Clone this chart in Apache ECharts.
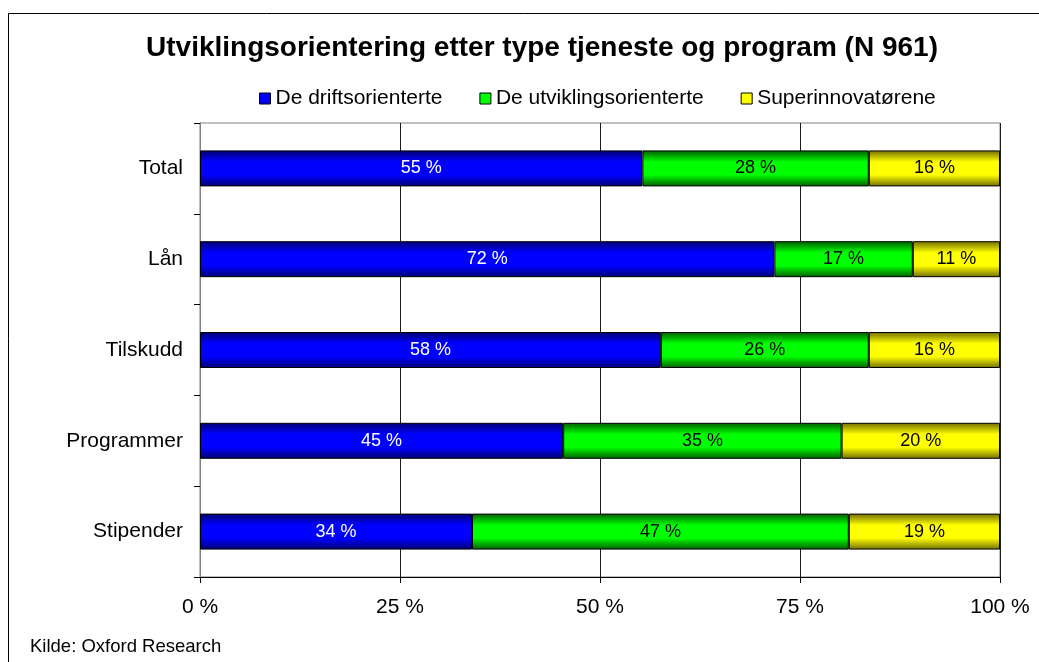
<!DOCTYPE html>
<html>
<head>
<meta charset="utf-8">
<script src="https://cdn.jsdelivr.net/npm/echarts@6/dist/echarts.min.js"></script>
<style>
html,body{margin:0;padding:0;background:#fff;}
#chart{width:1039px;height:662px;}
</style>
</head>
<body>
<div id="chart"></div>
<script>
const categories = ['Total', 'Lån', 'Tilskudd', 'Programmer', 'Stipender'];
const seriesNames = ['De driftsorienterte', 'De utviklingsorienterte', 'Superinnovatørene'];
const drifts = [55.3, 71.8, 57.6, 45.4, 34.0];
const utvikling = [28.3, 17.3, 26.0, 34.8, 47.1];
const superinn = [16.4, 10.9, 16.4, 19.8, 18.9];
const xTicks = [0, 25, 50, 75, 100];
const titleText = 'Utviklingsorientering etter type tjeneste og program (N 961)';
const sourceText = 'Kilde: Oxford Research';

const chart = echarts.init(document.getElementById('chart'));
const FONT = '"Liberation Sans", Arial, sans-serif';

function grad(dark, bright) {
  return new echarts.graphic.LinearGradient(0, 0, 0, 1, [
    {offset: 0, color: dark},
    {offset: 0.32, color: bright},
    {offset: 0.68, color: bright},
    {offset: 1, color: dark}
  ]);
}
const flat = ['#0000ff', '#00ff00', '#ffff00'];
const fills = [grad('#000070', '#0000ff'), grad('#005c00', '#00ff00'), grad('#706c00', '#ffff00')];
const labelColors = ['#ffffff', '#000000', '#000000'];
const dataSets = [drifts, utvikling, superinn];

const series = dataSets.map((d, i) => ({
  name: seriesNames[i],
  type: 'bar',
  stack: 'total',
  barWidth: 36,
  data: d,
  itemStyle: {color: fills[i], borderColor: '#000', borderWidth: 1},
  label: {
    show: true,
    position: 'inside',
    color: labelColors[i],
    fontFamily: FONT,
    fontSize: 18,
    formatter: p => Math.round(p.value) + ' %'
  },
  emphasis: {disabled: true}
}));

chart.setOption({
  animation: false,
  backgroundColor: '#fff',
  title: {
    text: titleText,
    left: 537,
    textAlign: 'center',
    top: 29,
    textStyle: {fontFamily: FONT, fontSize: 28, fontWeight: 'bold', color: '#000'}
  },
  legend: {
    left: 254,
    top: 83,
    itemWidth: 11,
    itemHeight: 11,
    itemGap: 37,
    textStyle: {fontFamily: FONT, fontSize: 21, color: '#000'},
    data: seriesNames.map((n, i) => ({
      name: n,
      icon: 'rect',
      itemStyle: {color: flat[i], borderColor: '#000', borderWidth: 1}
    }))
  },
  grid: {
    left: 200, right: 39, top: 123, bottom: 85,
    show: true, borderColor: '#808080', borderWidth: 1,
    containLabel: false
  },
  xAxis: {
    type: 'value',
    min: xTicks[0],
    max: xTicks[xTicks.length - 1],
    interval: 25,
    axisLine: {show: true, lineStyle: {color: '#000', width: 1}},
    axisTick: {show: true, length: 6, lineStyle: {color: '#000'}},
    axisLabel: {
      fontFamily: FONT, fontSize: 21, color: '#000', margin: 20,
      formatter: v => v + ' %'
    },
    splitLine: {show: true, lineStyle: {color: '#1a1a1a', width: 1}}
  },
  yAxis: {
    type: 'category',
    data: categories,
    inverse: true,
    axisLine: {show: true, lineStyle: {color: '#808080', width: 1}},
    axisTick: {show: true, length: 6, alignWithLabel: false, lineStyle: {color: '#000'}},
    axisLabel: {fontFamily: FONT, fontSize: 21, color: '#000', margin: 17},
    splitLine: {show: false}
  },
  graphic: [
    {
      type: 'rect',
      shape: {x: 8.5, y: 13.5, width: 1100, height: 700},
      style: {fill: null, stroke: '#000', lineWidth: 1},
      silent: true
    },
    {
      type: 'text',
      left: 30,
      top: 637,
      style: {text: sourceText, font: '18.5px ' + FONT, fill: '#000'}
    }
  ],
  series: series
});
</script>
</body>
</html>
